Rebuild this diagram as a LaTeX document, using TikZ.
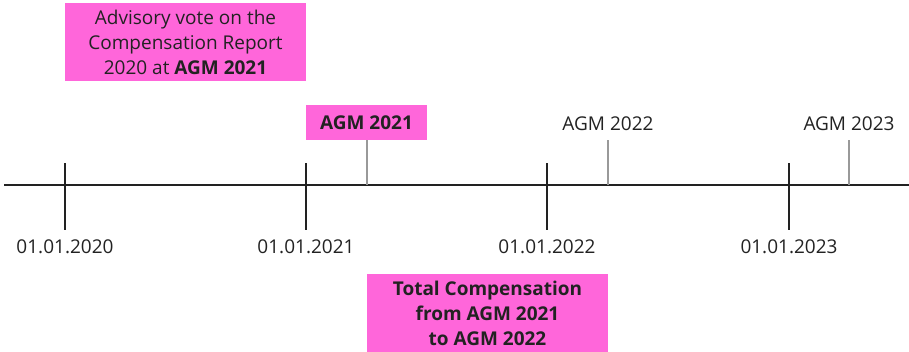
\documentclass[tikz,border=0pt]{standalone}
\usepackage{fontspec}
\setmainfont{Open Sans}
\definecolor{pinkbox}{HTML}{FF66DA}
\definecolor{txt}{HTML}{222222}
\definecolor{agmgray}{HTML}{999999}
\begin{document}
\begin{tikzpicture}[x=1pt,y=-1pt,
  every node/.style={text=txt,font=\fontsize{19}{25}\selectfont},
  pbox/.style={fill=pinkbox,inner sep=0pt,align=center},
  major/.style={draw=txt,line width=2.2pt},
  agm/.style={draw=agmgray,line width=2pt},
  datelbl/.style={anchor=center}]
\useasboundingbox (0,0) rectangle (909,351);
% axis
\coordinate (L) at (4,185);
\coordinate (R) at (909,185);
\draw[txt,line width=2.2pt] (L) -- (R);
% major ticks
\foreach \x/\n/\y in {65/a/2020,306/b/2021,547/c/2022,789/d/2023}{
  \coordinate (t\n top) at (\x,163);
  \coordinate (t\n bot) at (\x,230);
  \draw[major] (t\n top) -- (t\n bot);
  \node[datelbl] (d\n) at (\x,247) {01.01.\y};
}
% AGM ticks
\coordinate (g1a) at (367,140); \coordinate (g1b) at (367,185);
\coordinate (g2a) at (608,140); \coordinate (g2b) at (608,185);
\coordinate (g3a) at (849,140); \coordinate (g3b) at (849,185);
\draw[agm] (g1a) -- (g1b);
\draw[agm] (g2a) -- (g2b);
\draw[agm] (g3a) -- (g3b);
% AGM labels
\node[pbox,minimum width=121pt,minimum height=35pt] (agm21) at (366.5,122.5) {\bfseries AGM 2021};
\node (agm22) at (608,124) {AGM 2022};
\node (agm23) at (849,124) {AGM 2023};
% top box
\node[pbox,minimum width=241pt,minimum height=78pt] (top) at (185.5,42) {Advisory vote on the\\Compensation Report\\2020 at \textbf{AGM 2021}};
% bottom box
\node[pbox,minimum width=241pt,minimum height=78pt,font=\bfseries\fontsize{19}{25}\selectfont] (bot) at (487.5,313) {Total Compensation\\from AGM 2021\\to AGM 2022};
\end{tikzpicture}
\end{document}
